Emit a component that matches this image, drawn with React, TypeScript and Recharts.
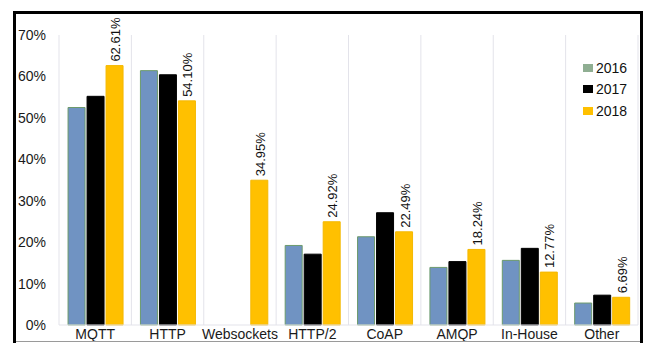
import { BarChart, Bar, XAxis, YAxis, CartesianGrid, LabelList } from 'recharts';

const protocols = ['MQTT', 'HTTP', 'Websockets', 'HTTP/2', 'CoAP', 'AMQP', 'In-House', 'Other'];
const y2016 = [52.5, 61.4, null, 19.2, 21.3, 13.9, 15.6, 5.3];
const y2017 = [55.2, 60.4, null, 17.1, 27.1, 15.3, 18.5, 7.2];
const y2018 = [62.61, 54.1, 34.95, 24.92, 22.49, 18.24, 12.77, 6.69];
const yTicks = [0, 10, 20, 30, 40, 50, 60, 70];

const series = [
  { key: 'y2016', name: '2016', fill: '#7093c2', stroke: '#6c9a6c', swatch: '#8fae92' },
  { key: 'y2017', name: '2017', fill: '#000000', stroke: '#000000', swatch: '#000000' },
  { key: 'y2018', name: '2018', fill: '#ffc000', stroke: '#f4b800', swatch: '#ffc000' },
];

const data = protocols.map((p, i) => ({ name: p, y2016: y2016[i], y2017: y2017[i], y2018: y2018[i] }));

const FONT = '"Liberation Sans", Arial, sans-serif';

function RotatedLabel(props: any) {
  const { x, y, width, value } = props;
  if (value == null) return null;
  const cx = Number(x) + Number(width) / 2 + 1;
  const ty = Number(y) - 4;
  return (
    <text
      x={cx}
      y={ty}
      transform={`rotate(-90, ${cx}, ${ty})`}
      textAnchor="start"
      dominantBaseline="central"
      fontSize={13}
      fontFamily={FONT}
      fill="#111"
    >
      {`${Number(value).toFixed(2)}%`}
    </text>
  );
}

function LegendBox() {
  return (
    <div style={{ position: 'absolute', left: 583, top: 57, fontFamily: FONT, fontSize: 14, color: '#111' }}>
      {series.map((s) => (
        <div key={s.key} style={{ display: 'flex', alignItems: 'center', height: 21.5 }}>
          <span style={{ display: 'inline-block', width: 10, height: 8, background: s.swatch, marginRight: 3 }} />
          <span>{s.name}</span>
        </div>
      ))}
    </div>
  );
}

export default function App() {
  return (
    <div style={{ position: 'fixed', left: 0, top: 0, width: 646, height: 343, background: '#fff', overflow: 'hidden' }}>
      <div style={{ position: 'absolute', left: 0, top: 0 }}>
        <BarChart
          width={646}
          height={343}
          data={data}
          margin={{ top: 35, right: 8, left: 0, bottom: 0 }}
          barCategoryGap="12.5%"
          barGap={2}
        >
          <CartesianGrid
            horizontal={false}
            stroke="#e3e3ea"
            verticalCoordinatesGenerator={({ offset }: any) =>
              Array.from({ length: protocols.length + 1 }, (_, i) => offset.left + (i * offset.width) / protocols.length)
            }
          />
          <XAxis
            dataKey="name"
            height={18}
            axisLine={{ stroke: '#e3e3ea' }}
            tickLine={false}
            tickSize={0}
            tickMargin={4}
            interval={0}
            tick={{ fontSize: 14, fill: '#1a1a1a', fontFamily: FONT }}
          />
          <YAxis
            width={59}
            domain={[0, 70]}
            ticks={yTicks}
            tickFormatter={(v: number) => `${v}%`}
            axisLine={false}
            tickLine={false}
            tickSize={0}
            tickMargin={13}
            tick={{ fontSize: 14, fill: '#1a1a1a', fontFamily: FONT }}
          />
          {series.map((s) => (
            <Bar
              key={s.key}
              dataKey={s.key}
              name={s.name}
              fill={s.fill}
              stroke={s.stroke}
              strokeWidth={1}
              isAnimationActive={false}
            >
              {s.key === 'y2018' ? <LabelList dataKey="y2018" content={<RotatedLabel />} /> : null}
            </Bar>
          ))}
        </BarChart>
      </div>
      <LegendBox />
      <div
        style={{
          position: 'absolute',
          left: 13,
          top: 11,
          width: 624,
          height: 340,
          borderTop: '3px solid #000',
          borderLeft: '3px solid #000',
          borderRight: '3px solid #000',
          pointerEvents: 'none',
        }}
      />
      <div style={{ position: 'absolute', left: 16, top: 341, width: 624, height: 1, background: '#9a9a9a' }} />
    </div>
  );
}
